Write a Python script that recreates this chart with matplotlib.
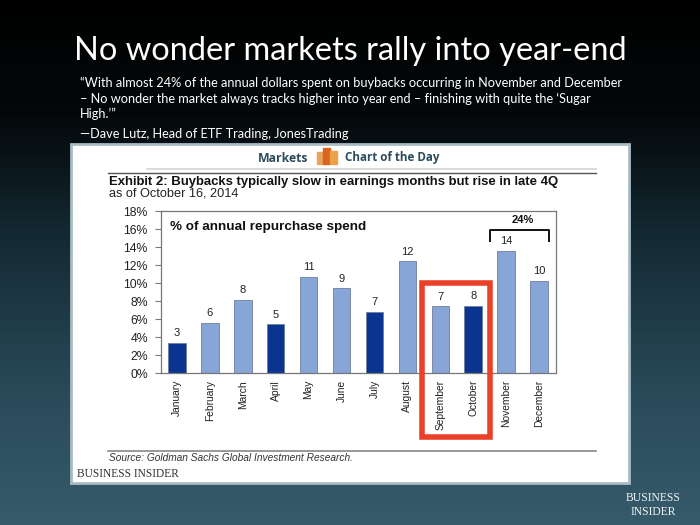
import numpy as np
import matplotlib
matplotlib.use("Agg")
import matplotlib.pyplot as plt
from matplotlib.patches import Rectangle
from matplotlib.colors import LinearSegmentedColormap

months = ["January", "February", "March", "April", "May", "June", "July",
          "August", "September", "October", "November", "December"]
values = [3.3, 5.6, 8.1, 5.4, 10.7, 9.4, 6.8, 12.4, 7.4, 7.5, 13.6, 10.2]
labels = ["3", "6", "8", "5", "11", "9", "7", "12", "7", "8", "14", "10"]
dark_months = ["January", "April", "July", "October"]
yticks = [0, 2, 4, 6, 8, 10, 12, 14, 16, 18]

W, H = 700, 525
fig = plt.figure(figsize=(7, 5.25), dpi=100)

def px_axes(x0, y0, x1, y1, **kw):
    return fig.add_axes([x0 / W, 1 - y1 / H, (x1 - x0) / W, (y1 - y0) / H], **kw)

# Slide background and overlay in pixel coordinates
bg = px_axes(0, 0, W, H)
cmap = LinearSegmentedColormap.from_list(
    "slide", [(0, "#000000"), (0.22, "#04080a"), (0.45, "#142a33"),
              (0.75, "#294a59"), (1, "#365b6b")])
bg.imshow(np.linspace(0, 1, 256)[:, None], aspect="auto", cmap=cmap,
          extent=(0, W, H, 0), vmin=0, vmax=1)
bg.set_xlim(0, W)
bg.set_ylim(H, 0)
bg.axis("off")

bg.text(350, 51, "No wonder markets rally into year-end", color="white",
        fontsize=23.4, family="Lato", ha="center", va="center")
quote = ["“With almost 24% of the annual dollars spent on buybacks occurring in November and December",
         "– No wonder the market always tracks higher into year end – finishing with quite the ‘Sugar",
         "High.’”"]
for y, line in zip([83, 99, 114], quote):
    bg.text(80, y, line, color="white", fontsize=9.15, family="Lato", va="center")
bg.text(80, 134, "—Dave Lutz, Head of ETF Trading, JonesTrading", color="white",
        fontsize=9.15, family="Lato", va="center")

# White exhibit panel
bg.add_patch(Rectangle((71, 144), 558, 339, facecolor="white",
                       edgecolor="#a9bcc4", linewidth=2))
bg.text(258, 158, "Markets", color="#2b4a5c", fontsize=8.8, weight="bold",
        family="Open Sans", va="center")
bg.text(345, 158, "Chart of the Day", color="#2b4a5c", fontsize=8.4, weight="bold",
        family="Open Sans", va="center")
bg.add_patch(Rectangle((317, 152), 6, 12, color="#e8a35c"))
bg.add_patch(Rectangle((323, 148), 7, 16, color="#d9641e"))
bg.add_patch(Rectangle((330, 151), 7, 13, color="#eda24a"))
bg.plot([147, 596], [168.5, 168.5], color="#d5d5d5", lw=1.2)
bg.plot([108, 596], [173, 173], color="#555555", lw=1)
bg.text(109, 185, "Exhibit 2: Buybacks typically slow in earnings months but rise in late 4Q",
        color="#111111", fontsize=9.45, weight="bold", family="Liberation Sans", va="baseline")
bg.text(109, 197, "as of October 16, 2014", color="#222222", fontsize=9.2,
        family="Liberation Sans", va="baseline")
bg.plot([108, 596], [451, 451], color="#888888", lw=1.2)
bg.text(109, 458, "Source: Goldman Sachs Global Investment Research.", color="#333333",
        fontsize=7.25, style="italic", family="Liberation Sans", va="center")
bg.text(77, 474, "BUSINESS INSIDER", color="#333333", fontsize=8.3,
        family="Liberation Serif", va="center")
bg.text(653, 498, "BUSINESS", color="#eef4f5", fontsize=8.4, family="Liberation Serif",
        ha="center", va="center")
bg.text(653, 512, "INSIDER", color="#eef4f5", fontsize=8.4, family="Liberation Serif",
        ha="center", va="center")

# Bar chart
ax = px_axes(160.5, 211, 555.5, 373)
ax.patch.set_alpha(0)
x = np.arange(len(months))
colors = ["#0a3490" if m in dark_months else "#88a5d8" for m in months]
ax.bar(x, values, width=0.53, color=colors, edgecolor="#6d7f9e", linewidth=0.6)
ax.set_xlim(-0.5, 11.5)
ax.set_ylim(0, 18)
ax.set_yticks(yticks)
ax.set_yticklabels([f"{t}%" for t in yticks], fontsize=8.8, family="Liberation Sans", color="#222222")
ax.set_xticks(x)
ax.set_xticklabels(months, rotation=90, fontsize=7.4, family="Liberation Sans", color="#222222")
ax.tick_params(axis="x", length=0, pad=5)
ax.tick_params(axis="y", length=4, width=0.8, color="#777777", pad=5)
for s in ax.spines.values():
    s.set_color("#777777")
    s.set_linewidth(0.9)
for xi, v, lab in zip(x, values, labels):
    ax.annotate(lab, (xi, v), xytext=(0, 3.5), textcoords="offset points", ha="center",
                va="bottom", fontsize=8, family="Liberation Sans", color="#222222")

# Overlays on top of the chart
top = px_axes(0, 0, W, H)
top.patch.set_alpha(0)
top.set_xlim(0, W)
top.set_ylim(H, 0)
top.axis("off")
top.text(170, 227, "% of annual repurchase spend", color="#111111", fontsize=9.7,
         weight="bold", family="Liberation Sans", va="center")
top.text(523, 220, "24%", color="#111111", fontsize=8, weight="bold",
         family="Liberation Sans", ha="center", va="center")
top.plot([490, 490, 549, 549], [241, 229.5, 229.5, 241], color="#111111", lw=1.4,
         solid_joinstyle="round")
top.add_patch(Rectangle((421.5, 283), 68, 153.5, fill=False, edgecolor="#ea4027", linewidth=4,
                        joinstyle="miter"))

fig.savefig("out.png", dpi=100)
